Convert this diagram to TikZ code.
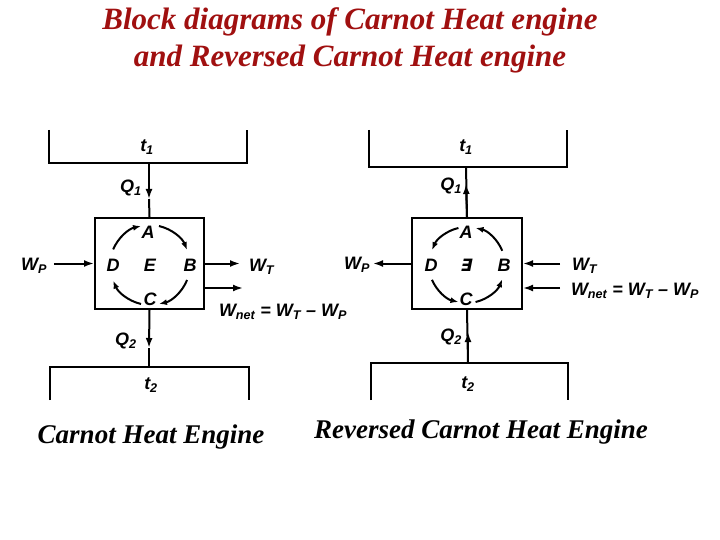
\documentclass[tikz,border=0pt]{standalone}
\usepackage{fontspec}
\setmainfont{Liberation Serif}
\newfontfamily\lsans{Liberation Sans}
\newfontfamily\dvsans{DejaVu Sans}
\usetikzlibrary{arrows.meta}
\definecolor{titlered}{RGB}{160,16,16}
\begin{document}
\begin{tikzpicture}[x=1pt,y=-1pt,line width=2pt,
  lbl/.style={font=\lsans\bfseries\itshape\fontsize{18}{18}\selectfont,inner sep=0pt},
  tip/.style={-{Latex[length=10pt,width=7pt]}},
  arctip/.style={-{Latex[length=8pt,width=6pt]}},
  engine/.style={draw,minimum width=109pt,minimum height=91pt,inner sep=0pt},
  ttl/.style={font=\bfseries\itshape\fontsize{31}{31}\selectfont,text=titlered,inner sep=0pt,anchor=base},
  captext/.style={font=\bfseries\itshape\fontsize{27}{27}\selectfont,inner sep=0pt,anchor=base}]
\useasboundingbox (0,0) rectangle (720,540);
% titles
\node[ttl] (title1) at (350,30) {Block diagrams of Carnot Heat engine};
\node[ttl] (title2) at (350,67) {and Reversed Carnot Heat engine};

% ---------------- left: Carnot heat engine
\draw (49,130) -- (49,163) -- (247,163) -- (247,130);
\coordinate (r1) at (149,163);
\node[lbl] (t1a) at (147,147) {t\textsubscript{1}};
\node[engine] (box1) at (149.5,263.5) {};
\coordinate (q1m) at (149,199);
\draw[tip] (r1) -- (q1m);
\draw (q1m) -- (box1.north);
\node[lbl] (q1a) at (131,188) {Q\textsubscript{1}};
\coordinate (c1) at (150,265);
\node[lbl] (a1) at (148,232) {A};
\node[lbl] (b1) at (190,265) {B};
\node[lbl] (cc1) at (150,299) {C};
\node[lbl] (d1) at (113,265) {D};
\node[lbl] (e1) at (150,265) {E};
\draw[arctip] ([shift={(-157:40)}]c1) arc[start angle=-157,end angle=-103,radius=40];
\draw[arctip] ([shift={(-77:40)}]c1) arc[start angle=-77,end angle=-22,radius=40];
\draw[arctip] ([shift={(22:40)}]c1) arc[start angle=22,end angle=77,radius=40];
\draw[arctip] ([shift={(103:40)}]c1) arc[start angle=103,end angle=157,radius=40];
\node[lbl] (wp1) at (34,266) {W\textsubscript{P}};
\draw[tip,shorten <=6pt] (wp1.east |- box1.west) -- (box1.west);
\node[lbl,anchor=west] (wt1) at (248,267) {W\textsubscript{T}};
\draw[tip,shorten >=8pt] (box1.east) -- (wt1.west |- box1.east);
\coordinate (n1) at (243,288);
\draw[tip] (box1.east |- n1) -- (n1);
\node[lbl,anchor=west] (wn1) at (218,312) {W\textsubscript{net} = W\textsubscript{T} – W\textsubscript{P}};
\coordinate (r2) at (149,367);
\coordinate (q2m) at (149,348);
\draw[tip] (box1.south) -- (q2m);
\draw (q2m) -- (r2);
\node[lbl] (q2a) at (126,341) {Q\textsubscript{2}};
\draw (50,400) -- (50,367) -- (249,367) -- (249,400);
\node[lbl] (t2a) at (151,385) {t\textsubscript{2}};
\node[captext] (cap1) at (151,443) {Carnot Heat Engine};

% ---------------- right: reversed Carnot heat engine
\draw (369,130) -- (369,167) -- (567,167) -- (567,130);
\coordinate (r3) at (466,167);
\node[lbl] (t1b) at (466,147) {t\textsubscript{1}};
\node[engine,minimum width=110pt] (box2) at (467,263.5) {};
\coordinate (q3m) at (466,184);
\draw (box2.north) -- (r3);
\draw[tip] (box2.north) -- (q3m);
\node[lbl] (q1b) at (451,186) {Q\textsubscript{1}};
\coordinate (c2) at (467,265);
\node[lbl] (a2) at (466,232) {A};
\node[lbl] (b2) at (504,265) {B};
\node[lbl] (cc2) at (466,299) {C};
\node[lbl] (d2) at (431,265) {D};
\node[lbl,font=\dvsans\bfseries\fontsize{17}{17}\selectfont,xslant=0.2,transform shape] (e2) at (467,265) {∃};
\draw[arctip] ([shift={(-103:38)}]c2) arc[start angle=-103,end angle=-157,radius=38];
\draw[arctip] ([shift={(157:38)}]c2) arc[start angle=157,end angle=103,radius=38];
\draw[arctip] ([shift={(77:38)}]c2) arc[start angle=77,end angle=22,radius=38];
\draw[arctip] ([shift={(-22:38)}]c2) arc[start angle=-22,end angle=-77,radius=38];
\node[lbl,anchor=east] (wp2) at (371,265) {W\textsubscript{P}};
\draw[tip,shorten >=2pt] (box2.west) -- (wp2.east |- box2.west);
\node[lbl,anchor=west] (wt2) at (571,266) {W\textsubscript{T}};
\draw[tip,shorten <=11pt] (wt2.west |- box2.east) -- (box2.east);
\coordinate (n2) at (560,288);
\draw[tip] (n2) -- (box2.east |- n2);
\node[lbl,anchor=west] (wn2) at (570,291) {W\textsubscript{net} = W\textsubscript{T} – W\textsubscript{P}};
\coordinate (r4) at (468,363);
\coordinate (q4m) at (468,332);
\draw (r4) -- (box2.south);
\draw[tip] (r4) -- (q4m);
\node[lbl] (q2b) at (451,337) {Q\textsubscript{2}};
\draw (371,400) -- (371,363) -- (568,363) -- (568,400);
\node[lbl] (t2b) at (468,384) {t\textsubscript{2}};
\node[captext] (cap2) at (481,438) {Reversed Carnot Heat Engine};
\end{tikzpicture}
\end{document}
